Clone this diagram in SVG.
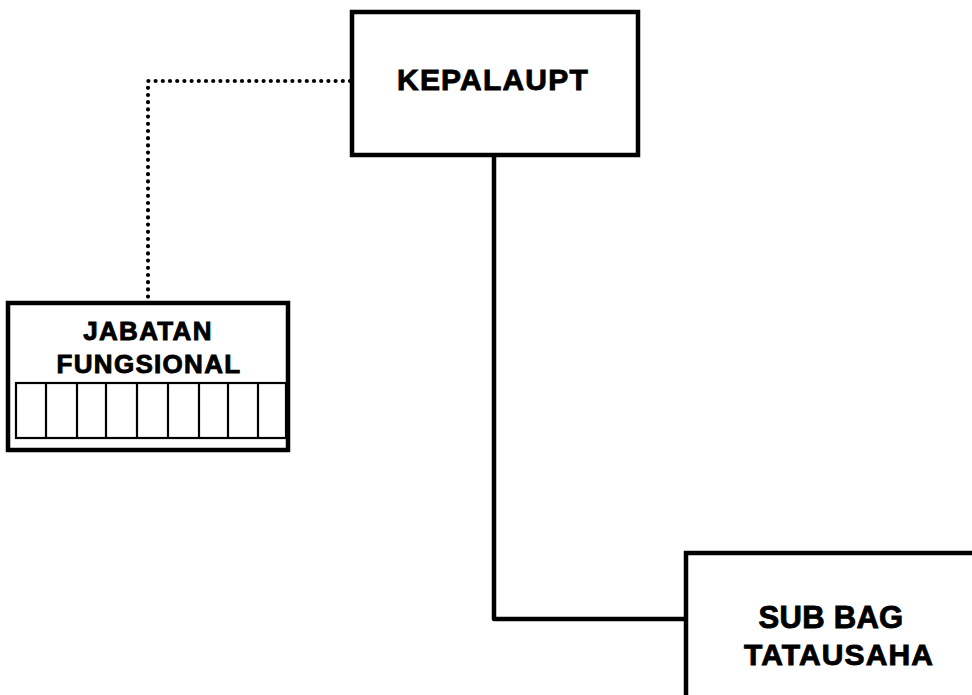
<svg xmlns="http://www.w3.org/2000/svg" width="972" height="695" viewBox="0 0 972 695">
<style>
.box{fill:#fff;stroke:#000;stroke-width:4.5}
.grid{fill:none;stroke:#000;stroke-width:2.2}
.conn{fill:none;stroke:#000;stroke-width:4.5;stroke-linejoin:round}
.dot{fill:none;stroke:#000;stroke-width:4.2;stroke-linecap:round;stroke-dasharray:0 7.2}
.lbl{font-family:"Liberation Sans",Arial,sans-serif;font-weight:bold;fill:#000;stroke:#000;stroke-width:0.9;text-anchor:middle}
</style>
<rect width="972" height="695" fill="#fff"/>
<g id="connectors">
<path class="dot" d="M350,81 L148,81 L148,300"/>
<path class="conn" d="M494,155 L494,619 L686,619"/>
</g>
<g id="kepala">
<rect class="box" x="352" y="12" width="286" height="143"/>
<text class="lbl" x="493" y="90" font-size="30" letter-spacing="1.2">KEPALAUPT</text>
</g>
<g id="jabatan">
<rect class="box" x="8" y="303" width="280" height="147"/>
<rect class="grid" x="16" y="383" width="270" height="55"/>
<path class="grid" d="M46,383V438M77,383V438M106,383V438M137,383V438M168,383V438M199,383V438M228,383V438M258,383V438"/>
<text class="lbl" x="148" y="340" font-size="26" letter-spacing="1.3">JABATAN</text>
<text class="lbl" x="149" y="373" font-size="26" letter-spacing="1.3">FUNGSIONAL</text>
</g>
<g id="subbag">
<rect class="box" x="686" y="553" width="320" height="200"/>
<text class="lbl" x="831" y="628" font-size="31" letter-spacing="0.3">SUB BAG</text>
<text class="lbl" x="839" y="665" font-size="30" letter-spacing="1.1">TATAUSAHA</text>
</g>
</svg>
